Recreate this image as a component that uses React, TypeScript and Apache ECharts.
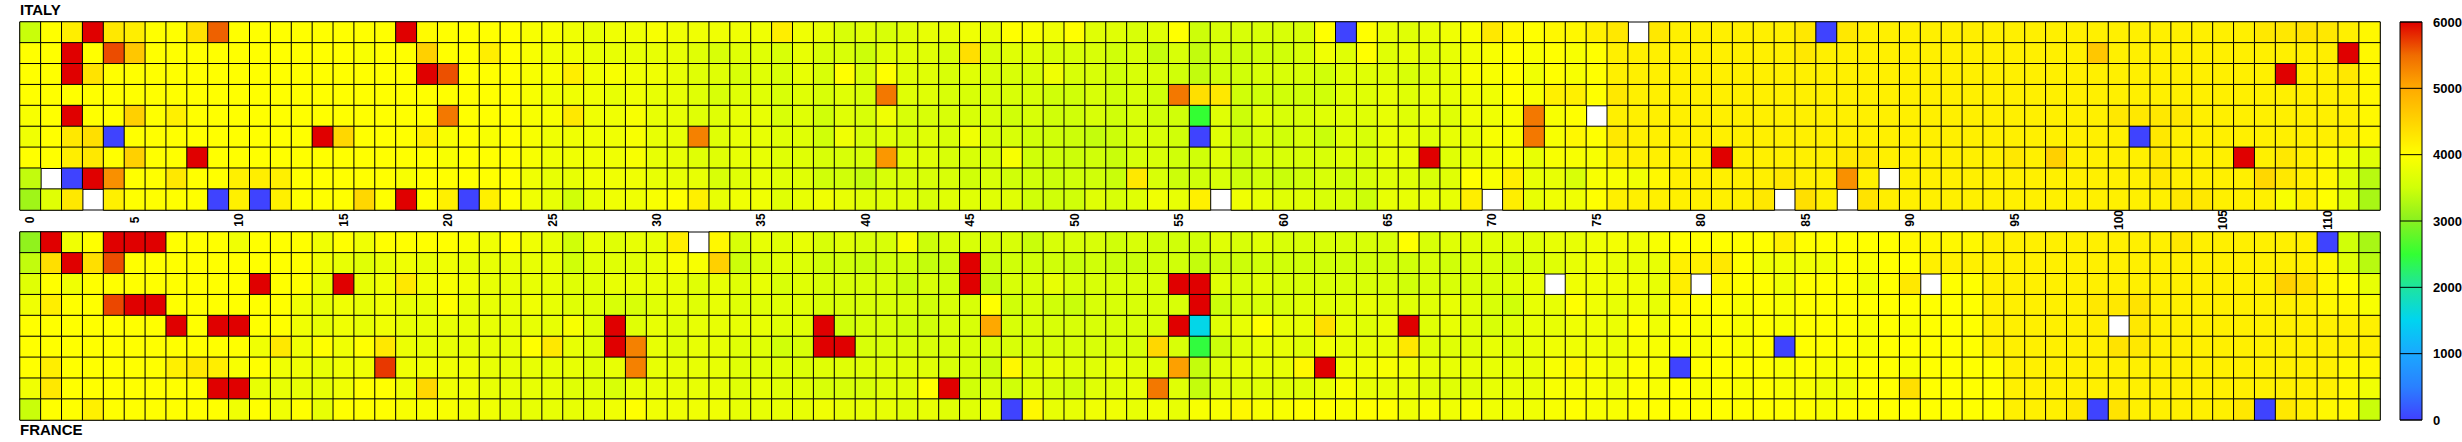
import React, { useEffect, useRef } from "react";
import * as echarts from "echarts";

// Column categories (bins 0..112) and row categories (9 rows per panel)
const columns: string[] = Array.from({ length: 113 }, (_, i) => String(i));
const rowCats: string[] = ["0", "1", "2", "3", "4", "5", "6", "7", "8"];

// Colour scale range and tick labels
const scaleMin = 0;
const scaleMax = 6000;
const colorbarTicks = [0, 1000, 2000, 3000, 4000, 5000, 6000];

// ITALY rows (top to bottom), null = empty bin
const italy0 = [
  3450, 4000, 4200, 6000, 4270, 4200, 4000, 4000, 4370, 5550,
  4000, 4000, 4000, 4000, 4000, 4000, 4000, 4000, 6000, 4050,
  4000, 4000, 4000, 4000, 3930, 3930, 3840, 3750, 3840, 3840,
  3930, 3840, 3840, 3840, 3840, 3840, 4200, 3840, 3750, 3590,
  3670, 3590, 3670, 3750, 3750, 3840, 3750, 4000, 3930, 3840,
  4000, 3670, 3670, 3590, 3670, 4000, 3480, 3590, 3590, 3590,
  3590, 3590, 4000, 20, 4000, 3750, 3670, 3750, 3840, 3930,
  4270, 4080, 4000, 4080, 4080, 4170, 4270, null, 4270, 4170,
  4170, 4170, 4170, 4170, 4170, 4270, 20, 4270, 4170, 4170,
  4170, 4170, 4170, 4200, 4170, 4170, 4170, 4170, 4170, 4170,
  4170, 4170, 4170, 4170, 4170, 4170, 4170, 4270, 4270, 4320,
  4270, 4170, 4080,
];
const italy1 = [
  4000, 4000, 6000, 4000, 5650, 4650, 4000, 4000, 4000, 4000,
  4000, 4000, 4000, 4000, 4000, 4000, 3930, 4000, 4000, 4550,
  4000, 4000, 4200, 4000, 3930, 3840, 3840, 3750, 3750, 3750,
  3750, 3750, 3670, 3590, 3670, 3670, 3590, 3750, 3590, 3590,
  3470, 3670, 3670, 3670, 3590, 4370, 3590, 3670, 3670, 3590,
  3590, 3590, 3500, 3590, 3420, 3590, 3400, 3500, 3470, 3500,
  3500, 3590, 3840, 3670, 4000, 3670, 3750, 3670, 3750, 3840,
  3930, 4000, 3930, 4000, 3930, 4000, 4170, 4170, 4170, 4170,
  4170, 4170, 4170, 4170, 4170, 4270, 4170, 4170, 4170, 4170,
  4170, 4170, 4170, 4170, 4170, 4170, 4170, 4170, 4170, 4650,
  4170, 4170, 4170, 4170, 4170, 4170, 4170, 4170, 4170, 4170,
  4200, 6000, 4080,
];
const italy2 = [
  4000, 4000, 6000, 4320, 4000, 4000, 4000, 4000, 4000, 4000,
  4000, 4000, 4000, 4000, 4000, 4000, 4000, 4000, 4000, 6000,
  5630, 4000, 4000, 4000, 3930, 3930, 4200, 3840, 3930, 3840,
  3840, 3750, 3670, 3670, 3590, 3670, 3590, 3750, 3590, 4000,
  3590, 4000, 3670, 3670, 3590, 3670, 3590, 3590, 3590, 3840,
  3590, 3590, 3500, 3590, 3590, 3500, 3400, 3500, 3500, 3590,
  3590, 3590, 3500, 3670, 3670, 3670, 3590, 3670, 3750, 3930,
  3930, 4000, 3840, 4000, 3930, 4000, 4170, 4170, 4170, 4170,
  4170, 4170, 4170, 4170, 4170, 4170, 4170, 4170, 4170, 4170,
  4170, 4170, 4170, 4170, 4170, 4170, 4170, 4170, 4170, 4170,
  4170, 4170, 4170, 4170, 4170, 4170, 4170, 4170, 6000, 4170,
  4170, 4270, 4080,
];
const italy3 = [
  4000, 4000, 4000, 4000, 4000, 4000, 4000, 4000, 4000, 4000,
  4000, 4000, 4000, 4000, 4000, 4000, 4000, 4000, 4000, 4000,
  4000, 4000, 4000, 4000, 3930, 3840, 3840, 3840, 3750, 3840,
  3750, 3750, 3670, 3590, 3670, 3670, 3590, 3670, 3590, 3670,
  3590, 5400, 3670, 3670, 3590, 3590, 3590, 3590, 3590, 3500,
  3500, 3590, 3500, 3590, 3500, 5400, 4370, 4270, 3500, 3500,
  3500, 3500, 3500, 3670, 3670, 3750, 3670, 3750, 3750, 3840,
  3840, 4000, 3930, 4170, 4170, 4000, 4270, 4170, 4170, 4170,
  4170, 4170, 4170, 4170, 4170, 4170, 4170, 4170, 4170, 4170,
  4170, 4170, 4170, 4170, 4170, 4170, 4170, 4170, 4170, 4170,
  4170, 4170, 4170, 4170, 4170, 4170, 4170, 4170, 4170, 4170,
  4170, 4170, 4080,
];
const italy4 = [
  3930, 4000, 6000, 4000, 4000, 4550, 4000, 4170, 4000, 4000,
  4000, 4000, 4000, 4000, 4000, 4000, 4000, 4000, 4000, 4000,
  5400, 4000, 4000, 4000, 3930, 3930, 4270, 3840, 3840, 3930,
  3750, 3750, 3670, 3670, 3750, 3750, 3590, 3670, 3500, 3670,
  3590, 3840, 3590, 3590, 3590, 3590, 3590, 3500, 3590, 3500,
  3500, 3590, 3500, 3590, 3500, 3500, 2500, 3670, 3470, 3670,
  3590, 3590, 3670, 3670, 3670, 3750, 3670, 3750, 3670, 3840,
  3840, 3930, 5400, 3930, 4000, null, 4170, 4170, 4170, 4170,
  4170, 4170, 4170, 4170, 4170, 4170, 4170, 4170, 4170, 4170,
  4170, 4170, 4170, 4170, 4170, 4170, 4170, 4170, 4170, 4170,
  4270, 4270, 4270, 4270, 4170, 4170, 4170, 4170, 4170, 4170,
  4170, 4170, 4080,
];
const italy5 = [
  3840, 4000, 4270, 4370, 20, 4000, 4000, 4000, 4000, 4000,
  4000, 4000, 4000, 4000, 6000, 4460, 4000, 4000, 4000, 4170,
  3930, 4000, 3930, 4000, 3930, 3840, 3840, 3840, 3840, 3930,
  3750, 3750, 5330, 3670, 3750, 3750, 3670, 3670, 3500, 3840,
  3590, 3670, 3590, 3670, 3590, 3840, 3590, 3590, 3500, 3500,
  3470, 3420, 3470, 3590, 3590, 3500, 20, 3670, 3470, 3590,
  3500, 3590, 3450, 3670, 3590, 3750, 3750, 3670, 3750, 3750,
  3930, 3930, 5400, 3930, 4080, 4000, 4270, 4170, 4170, 4170,
  4170, 4170, 4170, 4170, 4170, 4170, 4170, 4170, 4170, 4170,
  4170, 4170, 4170, 4170, 4170, 4170, 4170, 4170, 4170, 4170,
  4170, 20, 4270, 4170, 4170, 4170, 4170, 4170, 4170, 4170,
  4170, 4170, 4080,
];
const italy6 = [
  4000, 4000, 4200, 4270, 4000, 4550, 4000, 4000, 6000, 4000,
  4000, 4000, 4000, 4000, 4000, 4000, 4000, 4000, 4000, 4000,
  3930, 4000, 4000, 4000, 3930, 3840, 3840, 3840, 3840, 3930,
  3750, 3750, 3670, 3670, 3750, 3750, 3670, 3670, 3590, 3590,
  3590, 5150, 3670, 3670, 3590, 3590, 3590, 3930, 3500, 3500,
  3470, 3500, 3450, 3590, 3590, 3500, 3500, 3670, 3470, 3590,
  3590, 3590, 3590, 3670, 3590, 3750, 3750, 6000, 3670, 3750,
  3840, 3930, 3750, 3930, 3930, 3930, 4170, 4170, 4170, 4170,
  4170, 6000, 4170, 4170, 4170, 4170, 4170, 4270, 4270, 4170,
  4170, 4170, 4170, 4170, 4170, 4270, 4170, 4550, 4170, 4170,
  4170, 4170, 4270, 4170, 4170, 4170, 6000, 4170, 4270, 4170,
  4080, 3840, 3670,
];
const italy7 = [
  3400, null, 20, 6000, 5210, 4000, 4000, 4270, 4000, 4000,
  4170, 4200, 4170, 4000, 4000, 4000, 4000, 4000, 3930, 4000,
  4000, 4000, 4000, 4000, 3840, 3750, 3750, 3840, 3840, 3840,
  3750, 3750, 3750, 3590, 3670, 3750, 3670, 3670, 3500, 3500,
  3420, 3590, 3590, 3590, 3590, 3500, 3590, 3500, 3500, 3470,
  3500, 3500, 3450, 4270, 3590, 3470, 3500, 3590, 3470, 3500,
  3450, 3500, 3590, 3500, 3590, 3670, 3670, 3590, 3670, 4000,
  3930, 4200, 3750, 3750, 3590, 3930, 3930, 3840, 4080, 4170,
  4170, 4170, 4170, 4170, 4270, 4170, 4170, 5210, 4170, null,
  4170, 4170, 4170, 4170, 4170, 4170, 4170, 4170, 4170, 4170,
  4170, 4170, 4270, 4170, 4170, 4170, 4170, 4460, 4270, 4170,
  4080, 3670, 3330,
];
const italy8 = [
  3170, 3670, 4270, null, 4170, 4000, 4000, 4000, 4000, 20,
  4170, 20, 4170, 4000, 4000, 4000, 4460, 4000, 6000, 4000,
  4170, 20, 4170, 4000, 3840, 3750, 3500, 3750, 3840, 3840,
  3930, 4000, 4170, 3750, 3840, 3840, 3670, 3750, 3840, 3750,
  3670, 3670, 3670, 3590, 3670, 3670, 3670, 3670, 3500, 3500,
  3500, 3670, 3590, 3670, 3840, 3750, 4170, null, 3840, 3750,
  3670, 3670, 3590, 3590, 3470, 3750, 3750, 3750, 3750, 4200,
  null, 4200, 3750, 3840, 3840, 4000, 4170, 4170, 4170, 4170,
  4170, 4170, 4170, 4270, null, 4370, 4170, null, 4320, 4200,
  4170, 4170, 4170, 4170, 4170, 4170, 4170, 4170, 4170, 4170,
  4170, 4170, 4170, 4270, 4270, 4170, 4170, 4170, 3930, 4170,
  4000, 3670, 3220,
];

// FRANCE rows (top to bottom), null = empty bin
const france0 = [
  3060, 6000, 3840, 4000, 6000, 6000, 6000, 4000, 4000, 4000,
  3840, 4000, 4000, 4000, 3840, 4000, 3840, 4000, 4000, 4000,
  4000, 3930, 3840, 4000, 3840, 3750, 3500, 3750, 3670, 3750,
  3750, 4200, null, 4080, 3590, 3750, 3670, 3750, 3590, 3670,
  3590, 3590, 3930, 3470, 3590, 3590, 3590, 3590, 3450, 3590,
  3590, 3590, 3500, 3590, 3500, 3500, 3500, 3670, 3590, 3670,
  3590, 3590, 3590, 3590, 3590, 3590, 4000, 3590, 3670, 3670,
  3670, 3670, 3670, 3750, 3750, 3840, 3880, 3840, 3930, 4000,
  4000, 4000, 4000, 4000, 4170, 4000, 4000, 4000, 4000, 4000,
  4080, 4080, 4080, 4080, 4170, 4170, 4170, 4170, 4170, 4170,
  4170, 4170, 4170, 4270, 4170, 4170, 4170, 4170, 4170, 4170,
  20, 3500, 3220,
];
const france1 = [
  3400, 4370, 6000, 4370, 5650, 4000, 4000, 4000, 4000, 4000,
  4000, 4000, 4000, 4000, 3840, 3750, 3670, 3750, 3840, 3750,
  3840, 3750, 3750, 3750, 3750, 3750, 3500, 3670, 3670, 3670,
  3750, 3930, 3930, 4550, 3470, 3590, 3670, 3630, 3500, 3500,
  3450, 3500, 3500, 3420, 3450, 6000, 3450, 3500, 3500, 3500,
  3450, 3500, 3450, 3450, 3500, 3500, 3420, 3470, 3470, 3500,
  3500, 3500, 3500, 3500, 3500, 3500, 3500, 3590, 3500, 3590,
  3590, 3500, 3590, 3670, 3750, 3840, 3750, 3750, 3750, 4170,
  4170, 4270, 4000, 3840, 3840, 3840, 3840, 4000, 3930, 4000,
  4000, 4170, 4170, 4170, 4170, 4170, 4170, 4170, 4170, 4170,
  4170, 4170, 4170, 4170, 4170, 4170, 4170, 4170, 4170, 4170,
  4080, 3670, 3330,
];
const france2 = [
  3670, 4000, 3840, 4000, 4000, 4000, 4000, 4000, 4000, 4000,
  4000, 6000, 4000, 4000, 3750, 6000, 3750, 3840, 4270, 3840,
  3930, 3840, 3750, 3750, 3750, 3750, 3670, 3670, 3750, 3750,
  3750, 3750, 3670, 3750, 3670, 3750, 3590, 3670, 3590, 3590,
  3590, 3590, 3450, 3590, 3500, 6000, 3420, 3590, 3590, 3750,
  3590, 3590, 3590, 3590, 3590, 6000, 6000, 3670, 3590, 3670,
  3590, 3590, 3590, 3590, 3590, 3590, 3500, 3590, 3590, 3590,
  3590, 3670, 3750, null, 3840, 3840, 3840, 3840, 3750, 4200,
  null, 4080, 4000, 4000, 3840, 4000, 4000, 4000, 3840, 4000,
  4270, null, 4000, 4000, 4170, 4170, 4170, 4170, 4170, 4170,
  4170, 4170, 4170, 4170, 4170, 4170, 4170, 4170, 4550, 4370,
  4080, 4000, 3750,
];
const france3 = [
  3840, 4200, 4000, 4000, 5670, 6000, 6000, 4000, 4000, 4000,
  4000, 4000, 4000, 3840, 3750, 3840, 3750, 3840, 3750, 3750,
  4000, 3750, 3750, 3750, 3840, 3750, 3670, 3670, 3590, 3590,
  3670, 3750, 3670, 3750, 3670, 3670, 3670, 3670, 3590, 3590,
  3590, 3590, 3590, 3500, 3590, 3590, 4000, 3500, 3590, 3500,
  3450, 3590, 3590, 3590, 3590, 3590, 6000, 3470, 3590, 3590,
  3590, 3670, 3670, 3670, 3750, 3670, 3670, 3670, 3750, 3670,
  3590, 3500, 3750, 3750, 4000, 3840, 3750, 3840, 3750, 4080,
  4000, 4000, 3930, 4000, 3930, 4000, 4000, 4000, 4000, 4000,
  4000, 4000, 4000, 4000, 4170, 4170, 4170, 4170, 4170, 4270,
  4270, 4320, 4170, 4170, 4170, 4170, 4170, 4170, 4170, 4170,
  4080, 4080, 3930,
];
const france4 = [
  4000, 4000, 4000, 4000, 4000, 4000, 4000, 6000, 4000, 6000,
  6000, 4000, 4000, 3840, 3750, 3840, 3750, 3840, 3750, 3750,
  3750, 3750, 3750, 3750, 3750, 3750, 3930, 3670, 6000, 3670,
  3750, 3670, 3750, 3750, 3750, 3750, 3670, 3670, 6000, 3500,
  3590, 3590, 3500, 3500, 3590, 3590, 5020, 3590, 3590, 3590,
  3590, 3590, 3590, 3590, 3590, 6000, 1550, 3670, 3750, 4000,
  3750, 3750, 4370, 3750, 3670, 3750, 6000, 3670, 3750, 3670,
  3590, 3670, 3750, 3750, 3840, 3840, 3800, 4000, 3840, 4000,
  3930, 4000, 3930, 4000, 3930, 4000, 4000, 4000, 3930, 4000,
  3930, 4000, 4000, 4000, 4170, 4170, 4170, 4170, 4170, 4200,
  null, 4270, 4170, 4170, 4170, 4170, 4170, 4170, 4170, 4170,
  4170, 4170, 4170,
];
const france5 = [
  4000, 4000, 4000, 4000, 4000, 4000, 4000, 4000, 4000, 4000,
  4000, 3840, 4270, 3840, 4000, 3840, 4000, 4270, 3800, 3750,
  3750, 3750, 3750, 3750, 4000, 4270, 3750, 3670, 6000, 5330,
  3750, 3670, 3750, 3750, 3670, 3670, 3500, 3590, 6000, 6000,
  3590, 3590, 3590, 3590, 3590, 3590, 3590, 3590, 3590, 3590,
  3590, 3590, 3590, 3590, 4460, 3590, 2450, 3470, 3670, 3750,
  3750, 3670, 3840, 3750, 3750, 3750, 4270, 3670, 3670, 3670,
  3750, 3670, 3750, 3840, 3840, 3840, 3800, 3930, 3930, 3930,
  3930, 4000, 3930, 4000, 20, 4000, 4000, 4000, 3930, 4000,
  4000, 4000, 4000, 4000, 4170, 4170, 4170, 4170, 4170, 4170,
  4320, 4270, 4170, 4170, 4170, 4170, 4170, 4170, 4170, 4170,
  4170, 4170, 4170,
];
const france6 = [
  4000, 4200, 4000, 4000, 4000, 4000, 4000, 4170, 4270, 4200,
  3930, 4000, 3840, 3840, 3750, 3840, 3840, 5740, 3840, 3840,
  3840, 3840, 3750, 3750, 3750, 3750, 3750, 3670, 3750, 5330,
  3750, 3750, 3750, 3750, 3670, 3670, 3670, 3630, 3670, 3670,
  3670, 3670, 3670, 3670, 3590, 3590, 3470, 4080, 3670, 3750,
  3670, 3670, 3750, 3670, 3670, 5080, 3420, 3670, 3750, 3750,
  3750, 4080, 6000, 3840, 3840, 3930, 3840, 3750, 3750, 3750,
  3750, 3750, 3750, 3930, 4080, 3930, 3840, 4000, 3930, 20,
  4000, 4000, 4000, 4000, 3930, 4000, 3930, 3930, 4000, 4000,
  3930, 4000, 4000, 4000, 4000, 4170, 4170, 4170, 4170, 4170,
  4170, 4170, 4170, 4170, 4170, 4170, 4170, 4170, 4170, 4170,
  4170, 4080, 4080,
];
const france7 = [
  3840, 4270, 4000, 4000, 4000, 4000, 4000, 4000, 4000, 6000,
  6000, 3750, 3750, 3750, 3750, 3840, 4000, 4000, 3840, 4460,
  3840, 3840, 3750, 3750, 3750, 3750, 3670, 3670, 3590, 3750,
  3750, 3750, 3750, 3750, 3670, 3750, 3670, 3670, 3590, 3590,
  3590, 3670, 3670, 4000, 6000, 3500, 3590, 3500, 3670, 3590,
  3500, 3670, 3670, 3750, 5400, 3670, 3420, 3670, 3670, 3670,
  3670, 3670, 3750, 3930, 3750, 3750, 3750, 3670, 3670, 3670,
  3750, 3750, 3750, 3930, 3930, 3930, 3840, 4000, 3930, 4000,
  3930, 4000, 3930, 4000, 3930, 3930, 3840, 3840, 4000, 4000,
  4370, 4000, 4000, 4000, 4000, 4170, 4170, 4170, 4170, 4170,
  4170, 4170, 4170, 4170, 4170, 4170, 4170, 4170, 4170, 4170,
  4170, 4080, 3840,
];
const france8 = [
  3450, 4000, 4000, 4170, 4000, 4000, 4000, 4000, 4000, 4000,
  3840, 4000, 3840, 4000, 3750, 4000, 4000, 4000, 3930, 3930,
  3930, 3840, 3840, 3750, 3750, 3750, 3750, 3750, 3840, 4000,
  3840, 3840, 3840, 3840, 3750, 3750, 3750, 3750, 3840, 3750,
  3750, 3750, 3670, 3750, 3670, 3670, 3750, 20, 4080, 3750,
  3750, 3840, 3840, 3750, 3840, 3750, 3930, 3930, 4080, 3930,
  3930, 4000, 4000, 3930, 4000, 4000, 3840, 3930, 3840, 3930,
  3840, 3840, 3840, 3930, 4000, 3930, 3930, 4000, 4000, 4000,
  4000, 4000, 4000, 4000, 4000, 4000, 3930, 4000, 4000, 4000,
  4000, 4000, 4000, 4000, 4000, 4170, 4170, 4170, 4270, 20,
  4320, 4170, 4170, 4170, 4170, 4170, 4270, 20, 4270, 4170,
  4080, 4080, 3450,
];

const italyRows = [italy0, italy1, italy2, italy3, italy4, italy5, italy6, italy7, italy8];
const franceRows = [france0, france1, france2, france3, france4, france5, france6, france7, france8];

// Colour palette (from 0 to 6000, evenly spaced)
const palette = [
  "#4040ff", "#2a80ff", "#1aa8ff", "#00d4f0", "#1ee4a0", "#33ff33", "#88f020",
  "#d0ff08", "#ffff00", "#ffd400", "#ffaa00", "#f06c00", "#e00000",
];

function toCells(rows: (number | null)[][]) {
  const out: [number, number, number][] = [];
  rows.forEach((row, r) => {
    row.forEach((v, c) => {
      if (v !== null && v !== undefined) out.push([c, r, v]);
    });
  });
  return out;
}

const FONT = "Liberation Sans, Arial, Helvetica, sans-serif";

// Colour bar geometry
const BAR_X = 2400;
const BAR_Y = 22;
const BAR_W = 22;
const BAR_H = 398;

export default function App() {
  const ref = useRef<HTMLDivElement>(null);
  useEffect(() => {
    if (!ref.current) return;
    const chart = echarts.init(ref.current, undefined, { renderer: "svg" });
    const labelStyle = { fontFamily: FONT, fontWeight: "bold" as const, color: "#000" };
    const stops = palette.map((c, i) => ({ offset: i / (palette.length - 1), color: c }));
    const valueToBarY = (v: number) =>
      BAR_Y + BAR_H * (1 - (v - scaleMin) / (scaleMax - scaleMin));

    const colorbarElements: any[] = [
      {
        type: "rect", z: 5, silent: true,
        shape: { x: BAR_X, y: BAR_Y, width: BAR_W, height: BAR_H },
        style: {
          fill: { type: "linear", x: 0, y: 1, x2: 0, y2: 0, colorStops: stops },
          stroke: "#000", lineWidth: 1,
        },
      },
    ];
    colorbarTicks.forEach((t) => {
      const y = valueToBarY(t);
      colorbarElements.push({
        type: "line", z: 6, silent: true,
        shape: { x1: BAR_X, y1: y, x2: BAR_X + BAR_W, y2: y },
        style: { stroke: "#000", lineWidth: 1 },
      });
      colorbarElements.push({
        type: "text", z: 6, silent: true,
        x: BAR_X + BAR_W + 11, y,
        style: {
          text: String(t), fill: "#000", fontFamily: FONT, fontWeight: "bold",
          fontSize: 13, textAlign: "left", textVerticalAlign: "middle",
        },
      });
    });

    const gridCommon = {
      show: true, borderColor: "#000", borderWidth: 1, backgroundColor: "transparent",
      containLabel: false, outerBoundsMode: "none",
    };
    chart.setOption({
      animation: false,
      backgroundColor: "#ffffff",
      title: [
        {
          text: "ITALY", left: 20, top: 2, padding: 0,
          textStyle: { ...labelStyle, fontSize: 15 },
        },
        {
          text: "FRANCE", left: 20, top: 422, padding: 0,
          textStyle: { ...labelStyle, fontSize: 15 },
        },
      ],
      graphic: colorbarElements,
      grid: [
        { ...gridCommon, left: 20, top: 22, width: 2360, height: 188 },
        { ...gridCommon, left: 20, top: 232, width: 2360, height: 188 },
      ],
      xAxis: [
        {
          type: "category", gridIndex: 0, data: columns,
          axisLine: { show: false }, axisTick: { show: false }, splitLine: { show: false },
          axisLabel: {
            interval: 4, rotate: 90, align: "center", verticalAlign: "middle", margin: 10,
            fontSize: 12, ...labelStyle,
          },
        },
        { type: "category", gridIndex: 1, data: columns, show: false },
      ],
      yAxis: [
        { type: "category", gridIndex: 0, data: rowCats, inverse: true, show: false },
        { type: "category", gridIndex: 1, data: rowCats, inverse: true, show: false },
      ],
      visualMap: {
        type: "continuous", show: false, min: scaleMin, max: scaleMax,
        seriesIndex: [0, 1],
        inRange: { color: palette },
      },
      series: [
        {
          type: "heatmap", xAxisIndex: 0, yAxisIndex: 0, data: toCells(italyRows),
          itemStyle: { borderColor: "#000", borderWidth: 1 },
          emphasis: { disabled: true },
        },
        {
          type: "heatmap", xAxisIndex: 1, yAxisIndex: 1, data: toCells(franceRows),
          itemStyle: { borderColor: "#000", borderWidth: 1 },
          emphasis: { disabled: true },
        },
      ],
    });
    return () => chart.dispose();
  }, []);
  return (
    <div
      ref={ref}
      style={{ position: "absolute", left: 0, top: 0, width: 2462, height: 442, background: "#fff" }}
    />
  );
}
